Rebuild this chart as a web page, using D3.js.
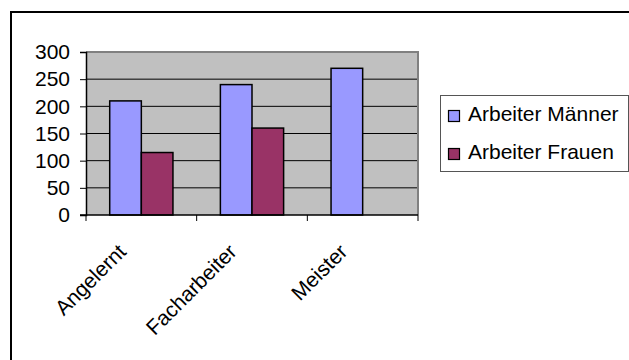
<!DOCTYPE html>
<html><head><meta charset="utf-8">
<script src="https://cdn.jsdelivr.net/npm/d3@7"></script>
<style>body{margin:0;background:#fff}svg{display:block}text{font-family:"Liberation Sans",Arial,sans-serif;fill:#000}</style>
</head><body>
<svg id="c" width="629" height="360"></svg>
<script>
const categories = ["Angelernt", "Facharbeiter", "Meister"];
const seriesNames = ["Arbeiter Männer", "Arbeiter Frauen"];
const maenner = [210, 240, 270];
const frauen = [115, 160, null];
const yTicks = [0, 50, 100, 150, 200, 250, 300];
const colors = ["#9999FF", "#993366"];

const svg = d3.select("#c");
const L = 86, R = 418, T = 52, B = 215;
const fs = 21;

// outer frame
svg.append("rect").attr("x", 11).attr("y", 12).attr("width", 700).attr("height", 500)
  .attr("fill", "none").attr("stroke", "#000").attr("stroke-width", 2);

const x = d3.scaleBand().domain(categories).range([L, R]).paddingInner(0).paddingOuter(0);
const xs = d3.scaleBand().domain(seriesNames).range([0, x.bandwidth()]).paddingInner(0).paddingOuter(0.75);
const y = d3.scaleLinear().domain([0, 300]).range([B, T]);

// plot area
svg.append("rect").attr("x", L).attr("y", T).attr("width", R - L).attr("height", B - T)
  .attr("fill", "#C0C0C0");
// gridlines
svg.append("g").selectAll("line").data(yTicks.filter(d => d > 0)).join("line")
  .attr("x1", L).attr("x2", R).attr("y1", d => y(d)).attr("y2", d => y(d))
  .attr("stroke", "#000").attr("stroke-width", 1);
// plot border (top/right gray)
svg.append("path").attr("d", `M${L},${T}H${R}V${B}`).attr("fill", "none")
  .attr("stroke", "#808080").attr("stroke-width", 2);

// bars
const data = [];
categories.forEach((c, i) => {
  [maenner[i], frauen[i]].forEach((v, j) => {
    if (v != null) data.push({c, s: seriesNames[j], v, j});
  });
});
svg.append("g").selectAll("rect").data(data).join("rect")
  .attr("x", d => x(d.c) + xs(d.s))
  .attr("y", d => y(d.v))
  .attr("width", xs.bandwidth())
  .attr("height", d => B - y(d.v))
  .attr("fill", d => colors[d.j])
  .attr("stroke", "#000").attr("stroke-width", 1.5);

// y axis
const yAxis = d3.axisLeft(y).tickValues(yTicks).tickSize(6).tickPadding(10);
const gy = svg.append("g").attr("transform", `translate(${L},0)`).call(yAxis);
gy.select(".domain").attr("stroke", "#000").attr("stroke-width", 1.5);
gy.selectAll(".tick line").attr("stroke", "#000");
gy.selectAll(".tick text").attr("font-size", fs).attr("font-family", "Liberation Sans, Arial, sans-serif");

// x axis
const gx = svg.append("g").attr("transform", `translate(0,${B})`);
gx.append("line").attr("x1", L - 6).attr("x2", R).attr("y1", 0).attr("y2", 0).attr("stroke", "#000").attr("stroke-width", 1.5);
const bounds = categories.map(c => x(c)).concat([x(categories[categories.length - 1]) + x.bandwidth()]);
gx.selectAll("line.t").data(bounds).join("line").attr("class", "t")
  .attr("x1", d => d).attr("x2", d => d).attr("y1", 0).attr("y2", 6).attr("stroke", "#000");
gx.selectAll("text").data(categories).join("text")
  .attr("text-anchor", "end").attr("font-size", fs)
  .attr("transform", d => `translate(${x(d) + x.bandwidth() / 2 - 14},38) rotate(-45)`)
  .text(d => d);

// legend
const lg = svg.append("g");
lg.append("rect").attr("x", 440.5).attr("y", 95.5).attr("width", 188).attr("height", 76)
  .attr("fill", "#fff").attr("stroke", "#555").attr("stroke-width", 1);
seriesNames.forEach((s, i) => {
  const yy = 110 + i * 38;
  lg.append("rect").attr("x", 448.5).attr("y", yy + 0.5).attr("width", 11).attr("height", 11)
    .attr("fill", colors[i]).attr("stroke", "#000").attr("stroke-width", 1.2);
  lg.append("text").attr("x", 468).attr("y", yy + 11).attr("font-size", fs).text(s);
});
</script>
</body></html>
